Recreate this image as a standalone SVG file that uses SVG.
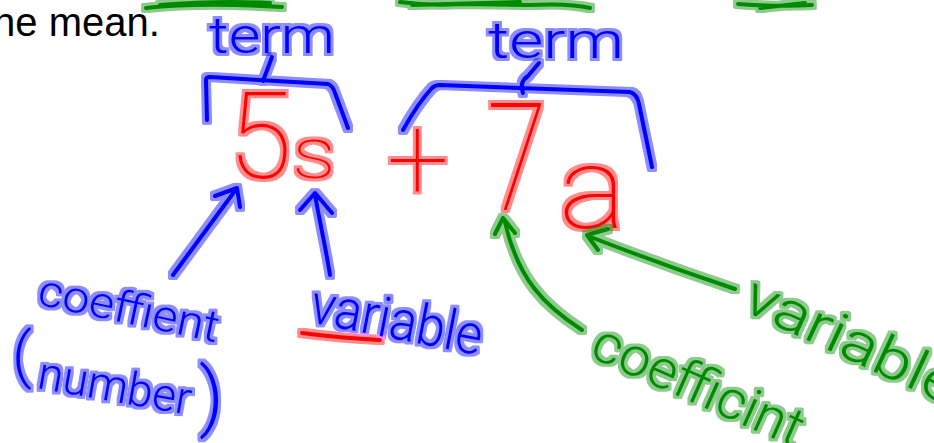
<svg xmlns="http://www.w3.org/2000/svg" width="934" height="443" viewBox="0 0 934 443">
<style>
  .ink { fill: none; stroke-linecap: round; stroke-linejoin: round; stroke-width: 4; }
  .b { stroke: #0000ff; }
  .r { stroke: #ff0000; }
  .g { stroke: #008a00; }
  .hw { font-family: Roboto, Inter, "Open Sans", "DejaVu Sans", sans-serif; font-weight: 300; }
  .big { font-weight: 100; }
  .tb { fill: #0000ff; }
  .tr { fill: #ff0000; }
  .tg { fill: #008a00; }
  .print { font-family: "Liberation Sans", Arial, sans-serif; fill: #000000; }
</style>
<defs>
  <filter id="glow" filterUnits="userSpaceOnUse" x="0" y="0" width="934" height="443">
    <feMorphology in="SourceGraphic" operator="dilate" radius="2.5" result="d"/>
    <feComponentTransfer in="d" result="h"><feFuncA type="linear" slope="0.45"/></feComponentTransfer>
    <feMerge><feMergeNode in="h"/><feMergeNode in="SourceGraphic"/></feMerge>
  </filter>
</defs>
<rect width="934" height="443" fill="#ffffff"/>

<g id="caption">
  <text class="print" x="-18" y="35.5" font-size="40">the mean.</text>
</g>

<g id="top-marks" filter="url(#glow)">
  <path class="ink g" d="M146,8 Q200,2 282,7 M160,5 Q220,0 270,3"/>
  <path class="ink g" d="M400,2 Q430,6 460,4 L530,5 Q570,3 590,8 M412,5 L520,2"/>
  <path class="ink g" d="M738,4 Q780,7 812,5 M760,8 L805,3"/>
</g>

<g id="term-left" filter="url(#glow)">
  <text class="hw tb" x="209" y="53" font-size="50" textLength="126" lengthAdjust="spacingAndGlyphs">term</text>
</g>
<g id="term-right" filter="url(#glow)">
  <text class="hw tb" x="488" y="58" font-size="50" textLength="136" lengthAdjust="spacingAndGlyphs">term</text>
</g>

<g id="expression" filter="url(#glow)">
  <text class="hw big tr" x="228" y="178" font-size="120" textLength="64" lengthAdjust="spacingAndGlyphs">5</text>
  <text class="hw big tr" x="292" y="178" font-size="72" textLength="44" lengthAdjust="spacingAndGlyphs">s</text>
  <text class="hw big tr" x="387" y="200" font-size="120" textLength="62" lengthAdjust="spacingAndGlyphs">+</text>
  <text class="hw big tr" x="487" y="210" font-size="150" textLength="60" lengthAdjust="spacingAndGlyphs">7</text>
  <text class="hw big tr" x="559" y="228" font-size="115" textLength="67" lengthAdjust="spacingAndGlyphs">a</text>
</g>

<g id="label-coefficient-left" filter="url(#glow)">
  <text class="hw tb" x="36" y="304" font-size="44" textLength="184" lengthAdjust="spacingAndGlyphs" transform="rotate(12 36 304)">coeffient</text>
  <text class="hw tb" x="12" y="376" font-size="62">(</text>
  <text class="hw tb" x="36" y="388" font-size="46" textLength="155" lengthAdjust="spacingAndGlyphs" transform="rotate(10 36 388)">number</text>
  <text class="hw tb" x="199" y="422" font-size="76">)</text>
</g>

<g id="label-variable-left" filter="url(#glow)">
  <text class="hw tb" x="308" y="322" font-size="56" textLength="174" lengthAdjust="spacingAndGlyphs" transform="rotate(11 308 322)">variable</text>
  <path class="ink r" d="M302,333 Q340,338 380,340"/>
</g>

<g id="label-coefficient-right" filter="url(#glow)">
  <text class="hw tg" x="588" y="356" font-size="54" textLength="226" lengthAdjust="spacingAndGlyphs" transform="rotate(24 588 356)">coefficint</text>
</g>

<g id="label-variable-right" filter="url(#glow)">
  <text class="hw tg" x="740" y="309" font-size="56" textLength="230" lengthAdjust="spacingAndGlyphs" transform="rotate(25 740 309)">variable</text>
</g>

<g id="connectors" filter="url(#glow)">
  <path class="ink b" d="M207,120 L206,80 Q206,77 210,77 L328,84 Q333,86 335,93 L348,128"/>
  <path class="ink b" d="M263,81 L272,57"/>
  <path class="ink b" d="M403,130 Q418,103 432,88 Q435,85 440,85 L630,92 Q637,94 639,104 L652,167"/>
  <path class="ink b" d="M523,93 Q519,82 528,76 L539,63"/>
  <path class="ink b" d="M173,275 L237,188 M215,196 L237,188 L240,207"/>
  <path class="ink b" d="M330,275 C327,255 321,228 315,195 M300,210 L315,193 L332,213"/>
  <path class="ink g" d="M582,330 C545,306 518,280 505,222 M495,234 L503,218 L515,233"/>
  <path class="ink g" d="M735,289 Q660,264 588,236 M608,229 L587,235 L598,250"/>
</g>
</svg>
